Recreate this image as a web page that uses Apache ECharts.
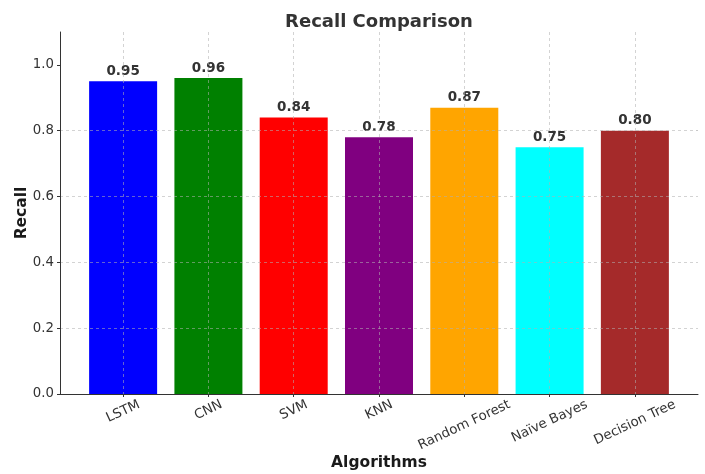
<!DOCTYPE html>
<html><head><meta charset="utf-8">
<script src="https://cdn.jsdelivr.net/npm/echarts@6/dist/echarts.min.js"></script>
<style>html,body{margin:0;padding:0;background:#fff}#c{width:705px;height:474px}</style>
</head><body><div id="c"></div>
<script>
const categories = ['LSTM','CNN','SVM','KNN','Random Forest','Naïve Bayes','Decision Tree'];
const recall = [0.95, 0.96, 0.84, 0.78, 0.87, 0.75, 0.80];
const barColors = ['#0000ff','#008000','#ff0000','#800080','#ffa500','#00ffff','#a52a2a'];
const yTicks = [0, 0.2, 0.4, 0.6, 0.8, 1.0];
const xTicks = [0, 1, 2, 3, 4, 5, 6];

const FONT = "'DejaVu Sans', sans-serif";
const tickFont = 13.3;
const ctx = document.createElement('canvas').getContext('2d');
ctx.font = tickFont + "px 'DejaVu Sans'";
const rich = {};
categories.forEach((c, i) => {
  const w = ctx.measureText(c).width;
  const s = 0.211 * w;
  rich['l' + i] = {fontSize: tickFont, fontFamily: FONT, color: '#333', padding: [1.81 * s, 0.846 * s, 0, 0]};
});
const gridColor = 'rgba(176,176,176,0.7)';

const chart = echarts.init(document.getElementById('c'), null, {renderer: 'canvas'});
chart.setOption({
  backgroundColor: '#fff',
  animation: false,
  title: {
    text: 'Recall Comparison', left: 374, top: 8, textAlign: 'center',
    textStyle: {fontFamily: FONT, fontSize: 18, fontWeight: 'bold', color: '#333'}
  },
  grid: {left: 60, right: 7, top: 32, bottom: 80, containLabel: false, outerBoundsMode: 'none'},
  xAxis: {
    type: 'value', min: -0.74, max: 6.74, z: 5,
    name: 'Algorithms', nameLocation: 'middle', nameGap: 61, nameMoveOverlap: false,
    nameTextStyle: {fontFamily: FONT, fontSize: 15.5, fontWeight: 'bold', color: '#1a1a1a'},
    axisLine: {show: true, onZero: false, lineStyle: {color: '#333', width: 1}},
    axisTick: {show: true, customValues: xTicks, length: 3, lineStyle: {color: '#333'}},
    axisLabel: {
      customValues: xTicks, rotate: 25, align: 'center', verticalAlign: 'middle', margin: 10,
      formatter: v => '{l' + v + '|' + categories[v] + '}', rich: rich
    },
    splitLine: {show: true, lineStyle: {color: gridColor, type: [3, 3], width: 0.8}}
  },
  yAxis: {
    type: 'value', min: 0, max: 1.1, interval: 0.2, z: 5,
    name: 'Recall', nameLocation: 'middle', nameGap: 30, nameRotate: 90, nameMoveOverlap: false,
    nameTextStyle: {fontFamily: FONT, fontSize: 15.5, fontWeight: 'bold', color: '#1a1a1a'},
    axisLine: {show: true, onZero: false, lineStyle: {color: '#333', width: 1}},
    axisTick: {show: true, customValues: yTicks, length: 3, lineStyle: {color: '#333'}},
    axisLabel: {
      customValues: yTicks, margin: 6, fontFamily: FONT, fontSize: tickFont, color: '#333',
      formatter: v => v.toFixed(1)
    },
    splitLine: {show: true, showMaxLine: false, lineStyle: {color: gridColor, type: [3, 3], width: 0.8}}
  },
  series: [{
    type: 'bar', barWidth: 68, z: 2,
    data: recall.map((v, i) => ({value: [i, v], itemStyle: {color: barColors[i]}})),
    label: {
      show: true, position: 'top', distance: 3,
      formatter: p => p.value[1].toFixed(2),
      fontFamily: FONT, fontSize: 13.5, fontWeight: 'bold', color: '#333'
    }
  }]
});
</script></body></html>
